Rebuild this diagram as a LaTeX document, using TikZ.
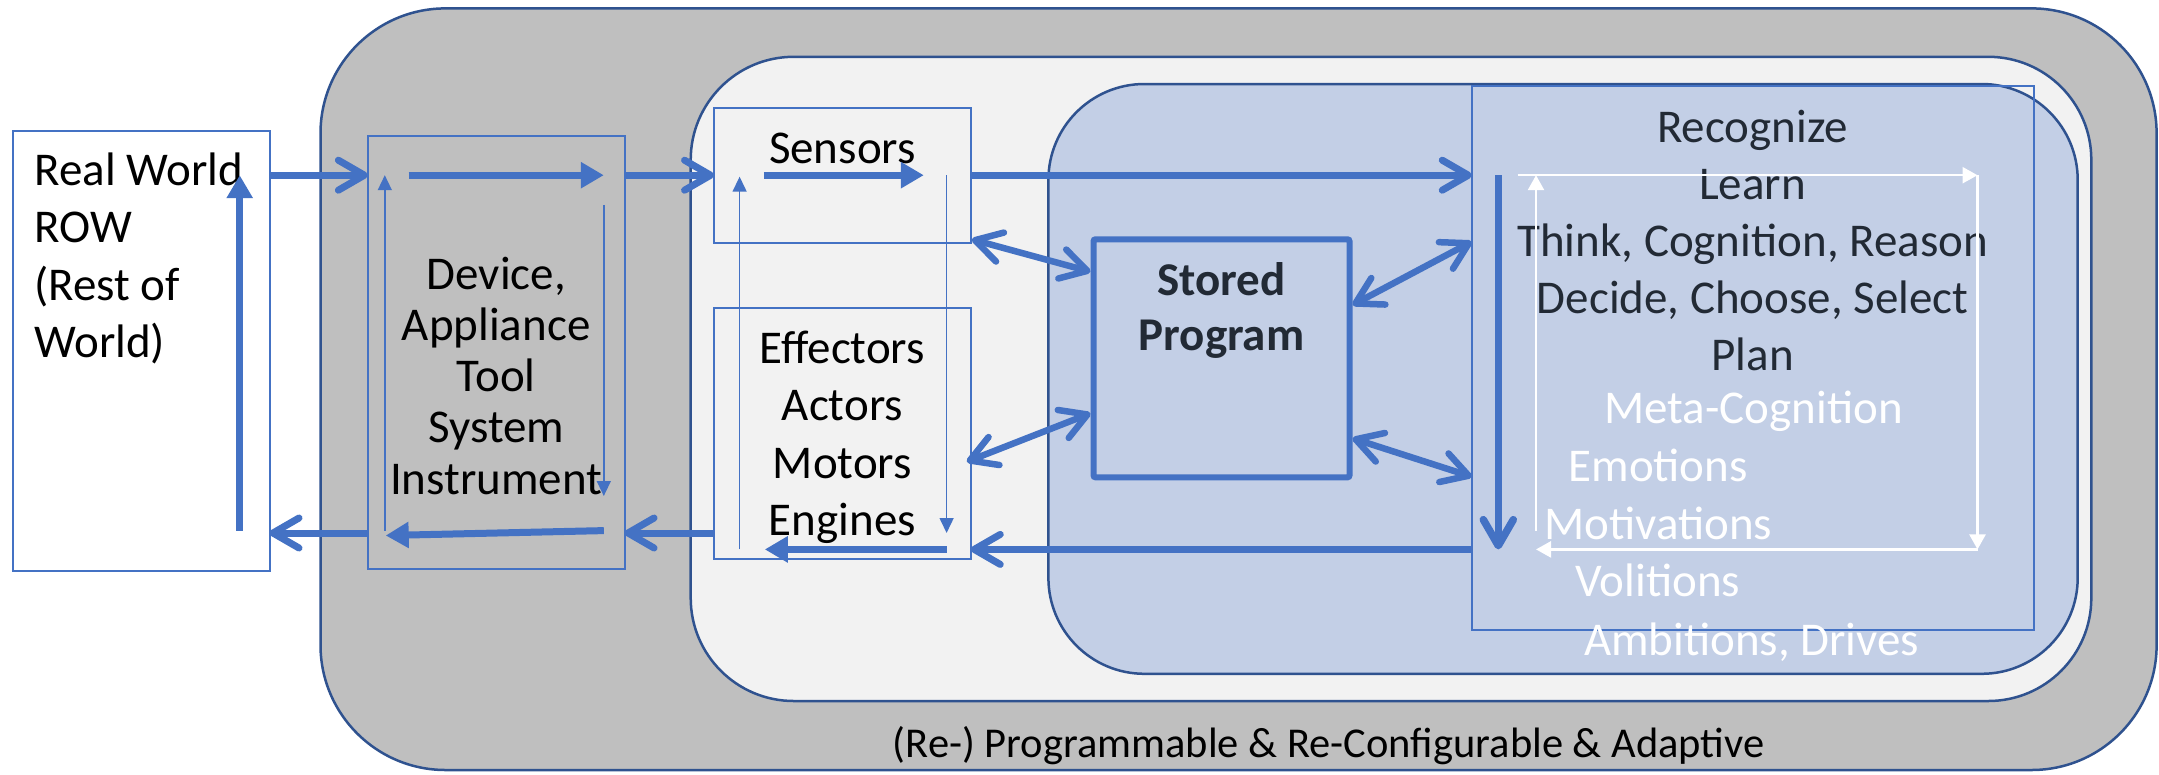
\documentclass[tikz,border=0pt]{standalone}
\usepackage{fontspec}
\setmainfont{Carlito}
\usetikzlibrary{arrows.meta,calc}
\definecolor{accent}{HTML}{4472C4}
\definecolor{darkb}{HTML}{2F528F}
\definecolor{grayfill}{HTML}{BFBFBF}
\definecolor{lightfill}{HTML}{F2F2F2}
\definecolor{bluefill}{HTML}{C3CFE6}
\definecolor{navy}{HTML}{222A35}
\newcommand\Ls{\rule[-13pt]{0pt}{51pt}}
\begin{document}
\begin{tikzpicture}[x=1pt,y=-1pt,
  region/.style={draw=darkb, line width=2.5pt, inner sep=0pt, outer sep=0pt},
  thinbox/.style={draw=accent, line width=2pt, inner sep=0pt, outer sep=0pt},
  txt/.style={inner sep=0pt, outer sep=0pt, font=\fontsize{47}{57.5}\selectfont},
  wtxt/.style={txt, text=white, anchor=base west},
  conn/.style={draw=accent, line width=7pt, -{Straight Barb[length=26pt,width=30pt,round]}},
  dconn/.style={draw=accent, line width=6.5pt, {Straight Barb[length=26pt,width=30pt,round]}-{Straight Barb[length=26pt,width=30pt,round]}},
  fatarrow/.style={draw=accent, line width=7pt, -{Triangle[length=23pt,width=25pt]}},
  thinarrow/.style={draw=accent, line width=1.5pt, -{Triangle[length=15pt,width=14pt]}},
  whitearrow/.style={draw=white, line width=2.5pt, -{Triangle[length=15pt,width=16pt]}}
]
\useasboundingbox (0,0) rectangle (2159,774);
\fill[white] (0,0) rectangle (2159,774);

% regions
\node[region, fill=grayfill, rounded corners=125pt, minimum width=1836.1pt, minimum height=761.6pt] (outer) at (1238.55,389.2) {};
\node[region, fill=lightfill, rounded corners=103pt, minimum width=1400.6pt, minimum height=644.2pt] (light) at (1391,378.9) {};
\node[region, fill=bluefill, rounded corners=96pt, minimum width=1029.3pt, minimum height=589.8pt] (blue) at (1563.05,378.9) {};

% boxes
\node[thinbox, fill=white, minimum width=256.6pt, minimum height=440.5pt] (rw) at (141.2,350.8) {};
\node[thinbox, minimum width=256.7pt, minimum height=433.3pt] (dev) at (496.2,352.4) {};
\node[thinbox, minimum width=256.7pt, minimum height=135.7pt] (sens) at (842.4,175.5) {};
\node[thinbox, minimum width=256.7pt, minimum height=251.7pt] (eff) at (842.4,433.4) {};
\node[draw=accent, line width=6pt, fill=bluefill, rounded corners=2pt, inner sep=0pt, minimum width=256pt, minimum height=238pt] (stored) at (1221.5,358.3) {};
\node[thinbox, minimum width=562.5pt, minimum height=544pt] (recog) at (1753,358.4) {};

% texts
\node[txt, anchor=north west, align=left] (rwtext) at (34.4,147) {\Ls Real World\\\Ls ROW\\\Ls (Rest of\\\Ls World)};
\node[txt, anchor=north, align=center, font=\fontsize{47}{51.25}\selectfont] (devtext) at (496.2,251) {\Ls Device,\\\Ls Appliance\\\Ls Tool\\\Ls System\\\Ls Instrument};
\node[txt, anchor=base] (senstext) at (842.4,163) {Sensors};
\node[txt, anchor=north, align=center] (efftext) at (842.4,325) {\Ls Effectors\\\Ls Actors\\\Ls Motors\\\Ls Engines};
\node[txt, anchor=north, align=center, text=navy, font=\fontsize{47}{55.5}\selectfont\bfseries] (storedtext) at (1221.5,257) {\Ls Stored\\\Ls Program};
\node[txt, anchor=north, align=center, text=navy, font=\fontsize{47}{57}\selectfont] (recogtext) at (1752.6,104) {\Ls Recognize\\\Ls Learn\\\Ls Think, Cognition, Reason\\\Ls Decide, Choose, Select\\\Ls Plan};
\node[wtxt] (meta) at (1604.3,423.5) {Meta-Cognition};
\node[wtxt] (emo) at (1568.5,481) {Emotions};
\node[wtxt] (moti) at (1544.3,539) {Motivations};
\node[wtxt] (voli) at (1575.2,596) {Volitions};
\node[wtxt] (ambi) at (1584,655.5) {Ambitions, Drives};
\node[inner sep=0pt, anchor=base, font=\fontsize{42.5}{50}\selectfont] (caption) at (1328.7,757) {(Re-) Programmable \& Re-Configurable \& Adaptive};

% level helpers
\coordinate (ytop) at (0,175.2);
\coordinate (ybot) at (0,533);
\coordinate (yeff) at (0,549.4);

% connectors between boxes
\draw[conn] (rw.east |- ytop) -- (dev.west |- ytop);
\draw[conn] (dev.west |- ybot) -- (rw.east |- ybot);
\draw[conn] (dev.east |- ytop) -- (sens.west |- ytop);
\draw[conn] (eff.west |- ybot) -- (dev.east |- ybot);
\draw[conn] (sens.east |- ytop) -- (recog.west |- ytop);
\draw[conn] (recog.west |- yeff) -- (eff.east |- yeff);
\draw[dconn] ([shift={(1pt,4pt)}]sens.south east) -- ([yshift=86.6pt]stored.west);
\draw[dconn] ([shift={(-4pt,-28.3pt)}]eff.east) -- ([yshift=-55pt]stored.west);
\draw[dconn] ([yshift=53.3pt]stored.east) -- ([yshift=116.7pt]recog.west);
\draw[dconn] ([yshift=-80pt]stored.east) -- ([yshift=-118.3pt]recog.west);

% Real World loop
\coordinate (rwa) at (239.7,530.6);
\coordinate (rwb) at (239.7,175.2);
\draw[fatarrow, line width=7.5pt] (rwa) -- (rwb);

% Device loop
\coordinate (da) at (408.7,175.2);
\coordinate (db) at (603.8,175.2);
\coordinate (dc) at (603.8,204.8);
\coordinate (dd) at (603.8,496);
\coordinate (de) at (603.8,530.6);
\coordinate (df) at (385.7,535.5);
\coordinate (dg) at (384.8,530.6);
\coordinate (dh) at (384.8,175.2);
\draw[fatarrow] (da) -- (db);
\draw[thinarrow] (dc) -- (dd);
\draw[fatarrow] (de) -- (df);
\draw[thinarrow] (dg) -- (dh);

% Sensors / Effectors loop
\coordinate (sa) at (763.9,175.2);
\coordinate (sb) at (923.8,175.2);
\coordinate (sc) at (946.6,175.2);
\coordinate (sd) at (946.6,533);
\coordinate (se) at (946.6,549.4);
\coordinate (sf) at (764.8,549.4);
\coordinate (sg) at (739.6,549.4);
\coordinate (sh) at (739.6,176.7);
\draw[fatarrow] (sa) -- (sb);
\draw[thinarrow] (sc) -- (sd);
\draw[fatarrow] (se) -- (sf);
\draw[thinarrow] (sg) -- (sh);

% Recognize loop
\coordinate (ra) at (1498.3,175.2);
\coordinate (rb) at (1498.3,549.4);
\draw[conn, line width=7.5pt] (ra) -- (rb);
\coordinate (wa) at (1517.6,175.2);
\coordinate (wb) at (1977.5,175.2);
\coordinate (wc) at (1977.5,549.4);
\coordinate (wd) at (1536,549.4);
\coordinate (we) at (1536,530.6);
\coordinate (wf) at (1536,175.2);
\draw[whitearrow] (wa) -- (wb);
\draw[whitearrow] (wb) -- (wc);
\draw[whitearrow] (wc) -- (wd);
\draw[whitearrow] (we) -- (wf);
\end{tikzpicture}
\end{document}
